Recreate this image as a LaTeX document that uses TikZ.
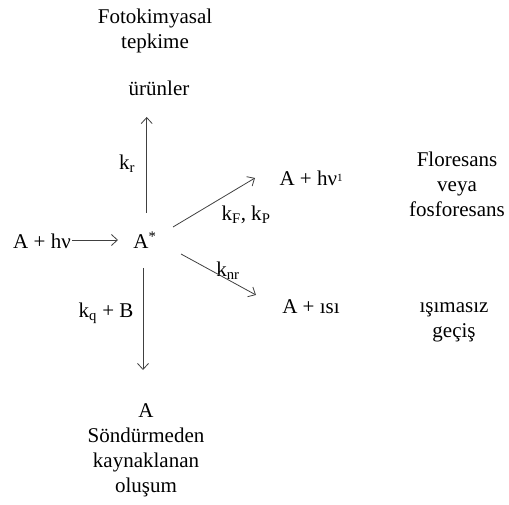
\documentclass[tikz,border=0pt]{standalone}
\usepackage{fontspec}
\setmainfont{Liberation Serif}
\usetikzlibrary{positioning,arrows.meta}

\begin{document}
\begin{tikzpicture}[x=1pt, y=-1pt,
    lbl/.style={font=\fontsize{21}{25}\selectfont, inner sep=0pt, align=center},
    rate/.style={font=\fontsize{21}{25}\selectfont, inner sep=0pt},
    arrow/.style={-{Straight Barb[length=6pt, width=11pt]}, line width=0.8pt, black!75}
]
\useasboundingbox (0,0) rectangle (509,505);

% species
\node[lbl] (start) at (42,241) {A + hν};
\node[lbl] (astar) at (145,240) {A\textsuperscript{*}};
\node[lbl] (urun) at (159,88) {ürünler};
\node[lbl] (photo) at (155,31) {Fotokimyasal\\tepkime};
\node[lbl] (emis) at (311,178) {A + hν\raisebox{0.35ex}{\fontsize{11}{11}\selectfont 1}};
\node[lbl] (heat) at (311,307) {A + ısı};
\node[lbl, anchor=north] (quench) at (146,403) {A\\Söndürmeden\\kaynaklanan\\oluşum};

% process names
\node[lbl] (fluo) at (457,184) {Floresans\\veya\\fosforesans};
\node[lbl] (nonrad) at (454,322) {ışımasız\\geçiş};

% rate constants
\node[rate] (kr) at (127,164) {k\textsubscript{r}};
\node[rate] (kfp) at (246,215) {k\textsubscript{F}, k\textsubscript{P}};
\node[rate] (knr) at (228,271) {k\textsubscript{nr}};
\node[rate] (kq) at (106,313) {k\textsubscript{q} + B};

\draw[arrow] ([shift={(30,-1)}]start.center) -- ([shift={(-27,0)}]astar.center);
\draw[arrow] ([shift={(1.7,-27)}]astar.center) -- ([shift={(-12.3,29)}]urun.center);
\draw[arrow] ([shift={(28,-13)}]astar.center) -- ([shift={(-56,0)}]emis.center);
\draw[arrow] ([shift={(36,14)}]astar.center) -- ([shift={(-55,-12)}]heat.center);
\draw[arrow] ([shift={(-2,28)}]astar.center) -- ([shift={(-3,-33)}]quench.north);
\end{tikzpicture}
\end{document}
